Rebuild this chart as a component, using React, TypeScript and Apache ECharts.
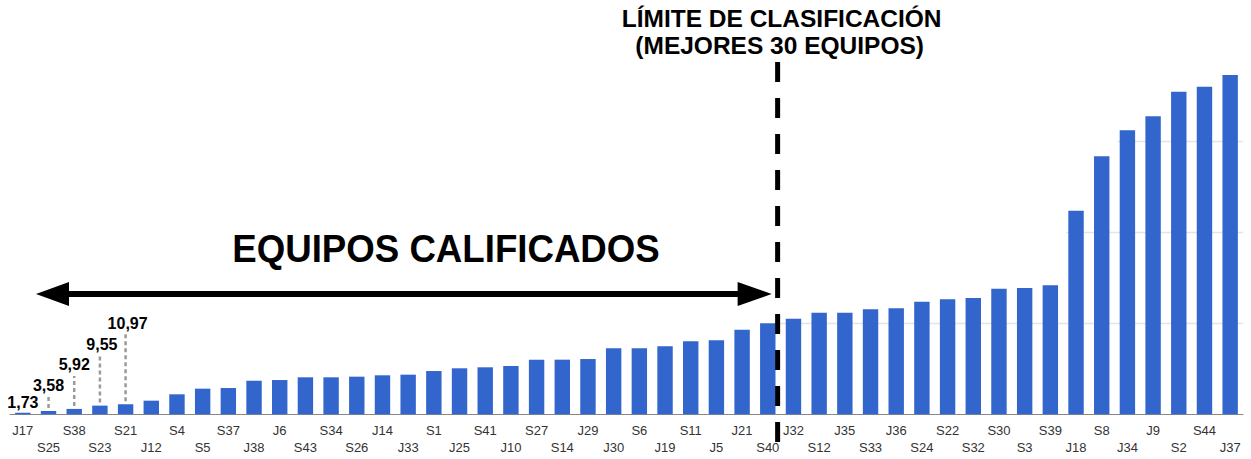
import React, { useEffect, useRef } from "react";
import * as echarts from "echarts";

const categories = [
  "J17", "S25", "S38", "S23", "S21", "J12", "S4", "S5", "S37", "J38",
  "J6", "S43", "S34", "S26", "J14", "J33", "S1", "J25", "S41", "J10",
  "S27", "S14", "J29", "J30", "S6", "J19", "S11", "J5", "J21", "S40",
  "J32", "S12", "J35", "S33", "J36", "S24", "S22", "S32", "S30", "S3",
  "S39", "J18", "S8", "J34", "J9", "S2", "S44", "J37",
];

const values = [
  1.73, 3.58, 5.92, 9.55, 10.97, 15.0, 22.0, 28.2, 28.9, 37.0,
  37.7, 40.7, 40.7, 41.4, 42.9, 43.6, 47.6, 50.6, 51.7, 53.1,
  60.1, 60.1, 60.8, 72.6, 72.6, 74.8, 80.3, 81.4, 93.1, 100.1,
  105.2, 111.8, 111.8, 115.5, 116.6, 123.9, 126.5, 127.9, 138.2, 138.9,
  141.9, 224.0, 283.8, 312.4, 327.8, 354.9, 360.4, 373.3,
];

// value labels shown on the first bars
const labelTexts = ["1,73", "3,58", "5,92", "9,55", "10,97"];
// how far above each labelled bar the label sits (px)
const labelLift = [2, 17.5, 36, 53.6, 73.3];
const labelShift = [0, 0, 0, 2, 2];

const cutoffAfter = "S40"; // best 30 teams
const gridValues = [100, 200, 300];
const gridStartAfter = ["S40", "S39", "S8"];

const titleLine1 = "LÍMITE DE CLASIFICACIÓN";
const titleLine2 = "(MEJORES 30 EQUIPOS)";
const qualifiedText = "EQUIPOS CALIFICADOS";

export default function App() {
  const ref = useRef<HTMLDivElement>(null);

  useEffect(() => {
    if (!ref.current) return;
    document.body.style.margin = "0";
    const chart = echarts.init(ref.current, null, { renderer: "svg" });

    const data = values.map((v, i) => {
      if (i < labelTexts.length) {
        return {
          value: v,
          label: {
            show: true,
            position: "top",
            distance: labelLift[i],
            offset: [labelShift[i], 0],
            formatter: labelTexts[i],
            fontFamily: "'Liberation Sans', Arial, sans-serif",
            fontWeight: "bold",
            fontSize: 16,
            color: "#000",
          },
        };
      }
      return v;
    });

    chart.setOption({
      animation: false,
      grid: { left: 10, right: 8, top: 50.7, bottom: 44.7, containLabel: false },
      xAxis: {
        type: "category",
        data: categories,
        axisTick: { show: false },
        axisLine: { lineStyle: { color: "#888", width: 1 } },
        axisLabel: {
          interval: 0,
          margin: 8,
          fontFamily: "'Liberation Sans', Arial, sans-serif",
          fontSize: 13,
          lineHeight: 16.5,
          color: "#333",
          formatter: (v: string, i: number) => (i % 2 === 1 ? "\n" + v : v),
        },
      },
      yAxis: {
        type: "value",
        min: 0,
        max: 400,
        interval: 100,
        show: true,
        axisLabel: { show: false },
        axisLine: { show: false },
        axisTick: { show: false },
        splitLine: { show: false },
      },
      series: [
        {
          type: "bar",
          data,
          barCategoryGap: "40%",
          itemStyle: { color: "#3366CC" },
          z: 2,
        },
      ],
    });

    const px = (cat: string, v: number) =>
      chart.convertToPixel({ seriesIndex: 0 }, [cat, v]) as number[];
    const idx = (c: string) => categories.indexOf(c);
    const boundaryAfter = (c: string) => {
      const i = idx(c);
      const a = px(categories[i], 0)[0];
      const b = px(categories[i + 1], 0)[0];
      return (a + b) / 2;
    };
    const rightX = px(categories[categories.length - 1], 0)[0] + 12.8;
    const cutX = boundaryAfter(cutoffAfter) - 3;

    const graphics: any[] = [];

    gridValues.forEach((gv, k) => {
      const y = px(categories[0], gv)[1];
      const startX = k === 0 ? cutX : boundaryAfter(gridStartAfter[k]) + 3;
      graphics.push({
        type: "line",
        z: 0,
        shape: { x1: startX, y1: y, x2: rightX, y2: y },
        style: { stroke: "#e4e4e4", lineWidth: 1.5 },
      });
    });

    // leader lines for labelled bars
    for (let i = 1; i < labelTexts.length; i++) {
      const [x, yTop] = px(categories[i], values[i]);
      graphics.push({
        type: "line",
        z: 5,
        shape: { x1: x, y1: yTop - 3, x2: x, y2: yTop - labelLift[i] + 3 },
        style: { stroke: "#9a9a9a", lineWidth: 2.5, lineDash: [4, 3] },
      });
    }

    // cutoff dashed line
    graphics.push({
      type: "line",
      z: 10,
      shape: { x1: cutX, y1: 62, x2: cutX, y2: 452 },
      style: { stroke: "#000", lineWidth: 5, lineDash: [20, 16] },
    });

    const boldFont = "'Liberation Sans', Arial, sans-serif";
    // titles
    graphics.push({
      type: "text",
      z: 10,
      x: cutX + 4,
      y: 18.5,
      style: {
        text: titleLine1,
        fontFamily: boldFont,
        fontWeight: "bold",
        fontSize: 24.5,
        fill: "#000",
        align: "center",
        verticalAlign: "middle",
      },
    });
    graphics.push({
      type: "text",
      z: 10,
      x: cutX + 2,
      y: 45,
      style: {
        text: titleLine2,
        fontFamily: boldFont,
        fontWeight: "bold",
        fontSize: 24.5,
        fill: "#000",
        align: "center",
        verticalAlign: "middle",
      },
    });

    // qualified teams arrow
    const arrowY = 294;
    const leftTip = 36;
    const rightTip = cutX - 6;
    graphics.push({
      type: "line",
      z: 10,
      shape: { x1: leftTip + 30, y1: arrowY, x2: rightTip - 30, y2: arrowY },
      style: { stroke: "#000", lineWidth: 6 },
    });
    graphics.push({
      type: "polygon",
      z: 10,
      shape: { points: [[leftTip, arrowY], [leftTip + 33, arrowY - 12], [leftTip + 33, arrowY + 12]] },
      style: { fill: "#000" },
    });
    graphics.push({
      type: "polygon",
      z: 10,
      shape: { points: [[rightTip, arrowY], [rightTip - 34, arrowY - 12], [rightTip - 34, arrowY + 12]] },
      style: { fill: "#000" },
    });
    graphics.push({
      type: "text",
      z: 10,
      x: 446,
      y: 249,
      scaleX: 0.94,
      style: {
        text: qualifiedText,
        fontFamily: boldFont,
        fontWeight: "bold",
        fontSize: 39,
        fill: "#000",
        align: "center",
        verticalAlign: "middle",
      },
    });

    chart.setOption({ graphic: graphics });

    return () => chart.dispose();
  }, []);

  return (
    <div
      ref={ref}
      style={{ position: "fixed", left: 0, top: 0, width: 1251, height: 459, background: "#fff" }}
    />
  );
}
